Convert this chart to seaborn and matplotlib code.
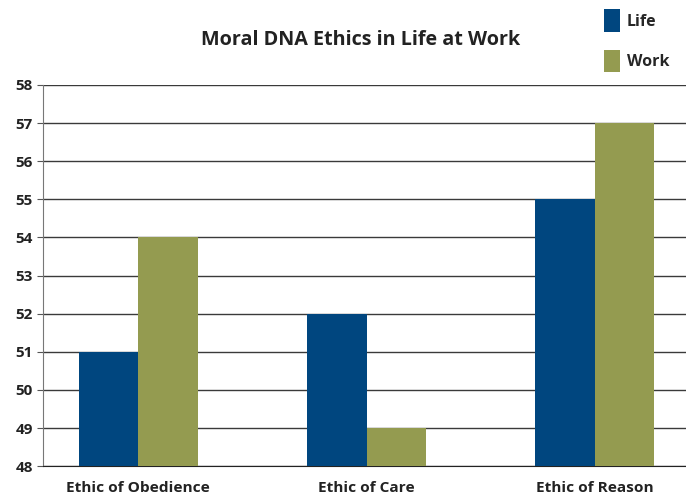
import pandas as pd
import numpy as np
import matplotlib.pyplot as plt
import seaborn as sns

categories = ['Ethic of Obedience', 'Ethic of Care', 'Ethic of Reason']
life = [51, 52, 55]
work = [54, 49, 57]

df = pd.DataFrame({
    'Ethic': categories * 2,
    'Score': life + work,
    'Where': ['Life'] * 3 + ['Work'] * 3,
})

sns.set_style('white')
plt.rcParams['font.family'] = ['Open Sans', 'DejaVu Sans']

fig = plt.figure(figsize=(6.86, 4.97), dpi=100)
ax = fig.add_axes([0.063, 0.062, 0.937, 0.767])

sns.barplot(data=df, x='Ethic', y='Score', hue='Where', ax=ax,
            palette=['#00467f', '#949b50'], width=0.52, saturation=1,
            linewidth=0, zorder=3)

ax.set_ylim(48, 58)
ax.set_xlim(-0.417, 2.4)
ax.set_yticks(range(48, 59))
ax.yaxis.grid(True, color='#3a3a3a', linewidth=1.0, zorder=0)
ax.set_axisbelow(True)
ax.set_xlabel('')
ax.set_ylabel('')
for s in ['top', 'right']:
    ax.spines[s].set_visible(False)
ax.spines['left'].set_color('#777777')
ax.spines['bottom'].set_color('#222222')
ax.tick_params(axis='y', which='major', left=True, length=4, color='#555555',
               labelsize=11)
ax.tick_params(axis='x', length=0, labelsize=11.1, pad=11)
for t in ax.get_xticklabels() + ax.get_yticklabels():
    t.set_fontweight('bold')
    t.set_color('#222222')

fig.text(0.525, 0.92, 'Moral DNA Ethics in Life at Work', ha='center', va='center',
         fontsize=14.2, fontweight='bold', color='#222222')

handles, labels = ax.get_legend_handles_labels()
ax.legend(handles, labels, loc='upper left', bbox_to_anchor=(0.86, 1.01),
          bbox_transform=fig.transFigure, frameon=False, handlelength=0.95,
          handleheight=1.8, handletextpad=0.45, labelspacing=1.1,
          prop={'weight': 'bold', 'size': 11.5})

fig.savefig('out.png', dpi=100)
